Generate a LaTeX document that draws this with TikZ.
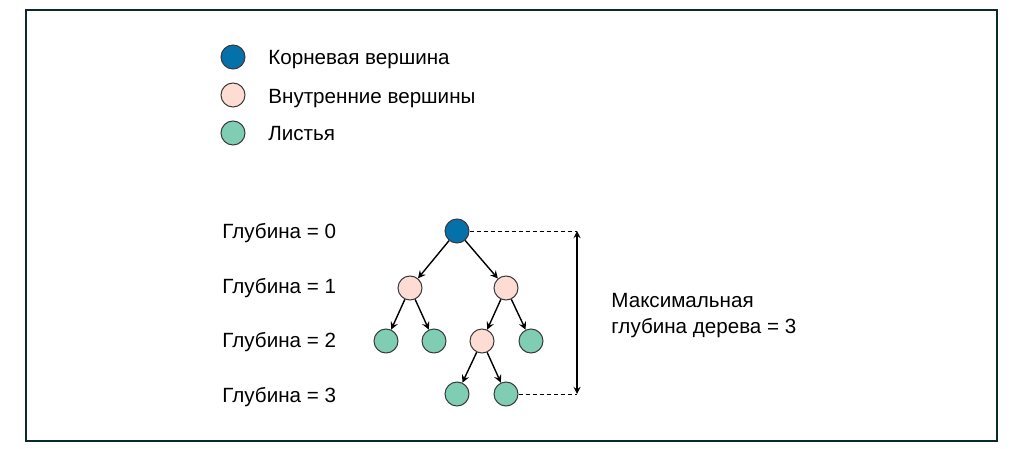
\documentclass[tikz,border=0pt]{standalone}
\usepackage{fontspec}
\setmainfont{Liberation Sans}
\usepackage{tikz}
\usetikzlibrary{positioning,arrows}
\definecolor{root_blue}{HTML}{0670A8}
\definecolor{inner_pink}{HTML}{FDDCD4}
\definecolor{leaf_green}{HTML}{7FCDB2}
\definecolor{ring_gray}{HTML}{3A3A3A}
\definecolor{frame_dark}{HTML}{0B2B2B}

\begin{document}
\begin{tikzpicture}[x=0.5pt, y=-0.5pt, >=stealth,
  font=\fontsize{10.3}{12.5}\selectfont,
  vertex/.style={circle, draw=ring_gray, line width=0.5pt, minimum size=12pt, inner sep=0pt},
  rootv/.style={vertex, fill=root_blue},
  innerv/.style={vertex, fill=inner_pink},
  leafv/.style={vertex, fill=leaf_green},
  label/.style={anchor=west, inner sep=0pt, text height=7.4pt, text depth=0pt}]
\useasboundingbox (0,0) rectangle (1011,449);
\node (Frame) [rectangle, draw = frame_dark, line width=0.6pt, minimum width=485.5pt, minimum height=215.5pt, inner sep=0pt] at (511.5,225.5) {};
% legend
\node (KeyRoot) [rootv] at (233,57) {};
\node (KeyInner) [innerv] at (233,95) {};
\node (KeyLeaf) [leafv] at (233,133) {};
\node (TxtRoot) [label] at (268,57) {Корневая вершина};
\node (TxtInner) [label] at (268,96) {Внутренние вершины};
\node (TxtLeaf) [label] at (268,133) {Листья};
% depth labels
\node (D0) [label] at (222,231) {Глубина = 0};
\node (D1) [label] at (222,286) {Глубина = 1};
\node (D2) [label] at (222,340) {Глубина = 2};
\node (D3) [label] at (222,395) {Глубина = 3};
% tree
\node (R) [rootv] at (457,231) {};
\node (A) [innerv] at (410,288) {};
\node (B) [innerv] at (506,288) {};
\node (A1) [leafv] at (386,341) {};
\node (A2) [leafv] at (434,341) {};
\node (B1) [innerv] at (482,341) {};
\node (B2) [leafv] at (531,341) {};
\node (C1) [leafv] at (457,394) {};
\node (C2) [leafv] at (506,394) {};
\path [->, line width=0.7pt] (R) edge (A) (R) edge (B);
\path [->, line width=0.7pt] (A) edge (A1) (A) edge (A2);
\path [->, line width=0.7pt] (B) edge (B1) (B) edge (B2);
\path [->, line width=0.7pt] (B1) edge (C1) (B1) edge (C2);
% max depth
\coordinate (Top) at (577,231);
\coordinate (Bottom) at (577,394);
\draw [dashed, line width=0.5pt, dash pattern=on 2pt off 1.5pt] (R.east) -- (Top);
\draw [dashed, line width=0.5pt, dash pattern=on 2pt off 1.5pt] (C2.east) -- (Bottom);
\draw [<->, line width=0.6pt] (Top) -- (Bottom);
\node (Max1) [label] at (611,300) {Максимальная};
\node (Max2) [label] at (611,326) {глубина дерева = 3};
\end{tikzpicture}
\end{document}
